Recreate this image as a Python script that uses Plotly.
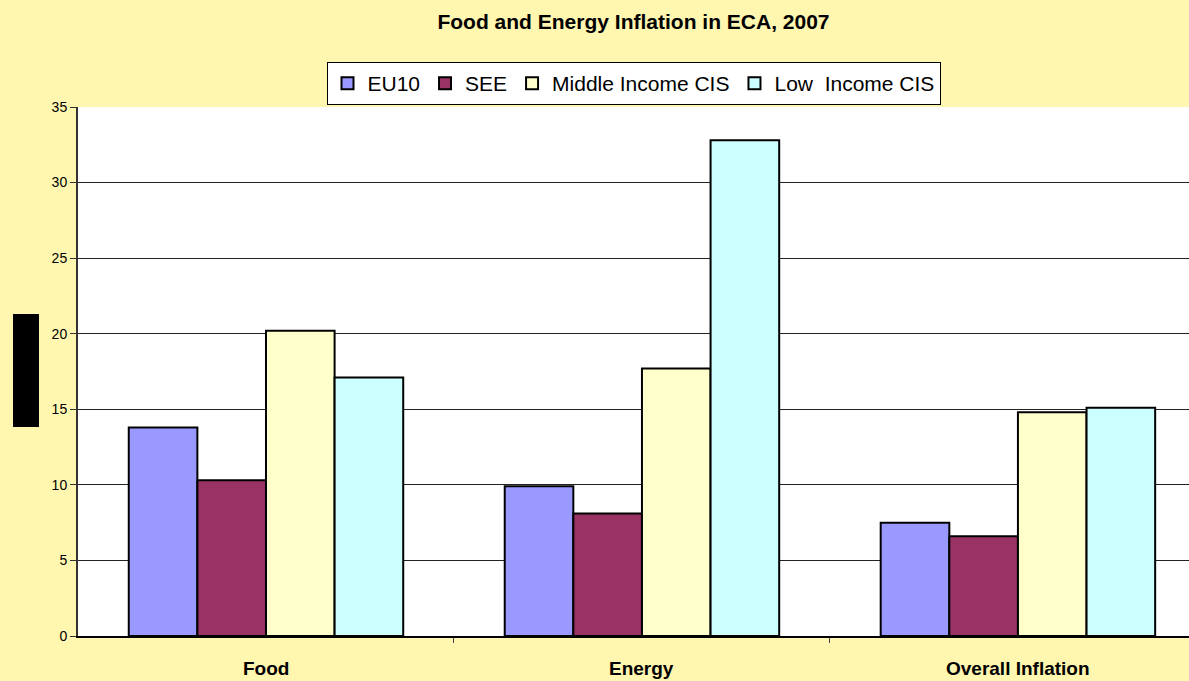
import plotly.graph_objects as go

categories = ["Food", "Energy", "Overall Inflation"]
series_names = ["EU10", "SEE", "Middle Income CIS", "Low  Income CIS"]
eu10 = [13.8, 9.9, 7.5]
see = [10.3, 8.1, 6.6]
middle_income_cis = [20.2, 17.7, 14.8]
low_income_cis = [17.1, 32.8, 15.1]
y_ticks = [0, 5, 10, 15, 20, 25, 30, 35]

colors = ["#9999FF", "#993366", "#FFFFCC", "#CCFFFF"]
values = [eu10, see, middle_income_cis, low_income_cis]

fig = go.Figure()
for name, vals, col in zip(series_names, values, colors):
    fig.add_trace(go.Bar(
        name=name, x=categories, y=vals,
        marker=dict(color=col, line=dict(color="black", width=2)),
    ))

font_family = "Liberation Sans, Arial, sans-serif"

fig.update_layout(
    width=1189, height=681,
    margin=dict(l=78, r=0, t=107, b=45),
    paper_bgcolor="#FFF6B0",
    plot_bgcolor="white",
    barmode="group",
    bargap=0.27,
    bargroupgap=0,
    font=dict(family=font_family, color="black"),
    title=dict(
        text="<b>Food and Energy Inflation in ECA, 2007</b>",
        x=0.5, xref="paper", y=0.968, yanchor="middle",
        font=dict(size=21, family=font_family, color="black"),
    ),
    legend=dict(
        orientation="h",
        x=0.5, xanchor="center",
        y=1.085, yanchor="top",
        bgcolor="white",
        bordercolor="black", borderwidth=1,
        font=dict(size=21, family=font_family, color="black"),
        itemwidth=30,
        traceorder="normal",
    ),
    showlegend=True,
)

fig.update_xaxes(
    range=[-0.5, 2.455],
    showline=True, linecolor="black", linewidth=2,
    ticks="outside", ticklen=5, tickcolor="#444",
    tickmode="array", tickvals=[0.5, 1.5],
    ticktext=["", ""],
    showgrid=False,
)

# Category names under each group
for i, cat in enumerate(categories):
    fig.add_annotation(
        x=i, y=0, xref="x", yref="paper", yanchor="middle",
        yshift=-32, text="<b>" + cat + "</b>", showarrow=False,
        font=dict(size=19, family=font_family, color="black"),
    )

fig.update_yaxes(
    range=[0, 35],
    tickvals=y_ticks,
    showline=True, linecolor="#333", linewidth=2,
    ticks="outside", ticklen=6, tickcolor="#333",
    gridcolor="#222", gridwidth=1,
    tickfont=dict(size=14, family=font_family, color="black"),
    zeroline=False,
)

# Block beside the value axis
fig.add_shape(
    type="rect", xref="paper", yref="paper",
    x0=-0.0585, x1=-0.0351, y0=0.395, y1=0.6087,
    fillcolor="black", line=dict(width=0),
)

fig.write_html("out.html")
